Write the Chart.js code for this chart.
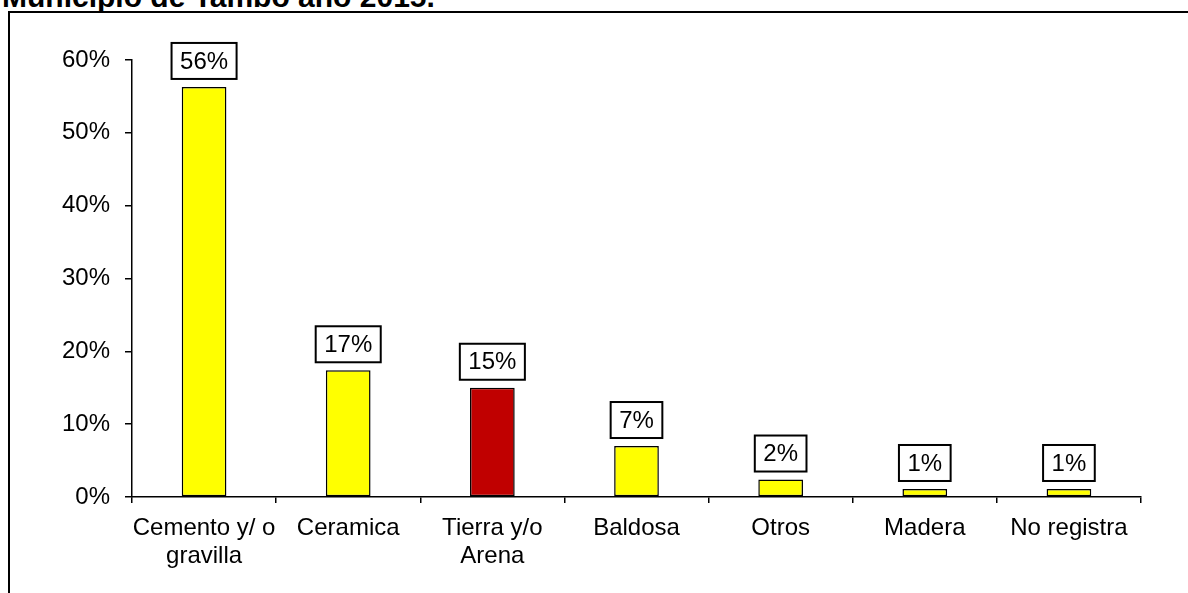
<!DOCTYPE html>
<html>
<head>
<meta charset="utf-8">
<script src="https://cdn.jsdelivr.net/npm/chart.js@4"></script>
<style>
  html, body { margin:0; padding:0; width:1188px; height:593px; overflow:hidden; background:#fff; }
  #title { position:absolute; left:2px; top:-18px; font:bold 30px Arial, "Liberation Sans", sans-serif; line-height:30px; color:#000; white-space:nowrap; }
  #frame { position:absolute; left:8px; top:11px; width:1300px; height:700px; border:2px solid #000; box-sizing:border-box; }
  #wrap { position:absolute; left:0; top:0; width:1188px; height:593px; }
</style>
</head>
<body>
<div id="title">Municipio de Tambo año 2015.</div>
<div id="frame"></div>
<div id="wrap"><canvas id="c" width="1188" height="593"></canvas></div>
<script>
const categories = [["Cemento y/ o","gravilla"], "Ceramica", ["Tierra y/o","Arena"], "Baldosa", "Otros", "Madera", "No registra"];
const values = [56.3, 17.4, 15.0, 7.0, 2.4, 1.1, 1.1];
const barColors = ["#FFFF00", "#FFFF00", "#C00000", "#FFFF00", "#FFFF00", "#FFFF00", "#FFFF00"];
const yTicks = [0, 10, 20, 30, 40, 50, 60];

const FONT = 'Arial, "Liberation Sans", sans-serif';

const boxLabels = {
  id: 'boxLabels',
  afterDatasetsDraw(chart) {
    const ctx = chart.ctx;
    const meta = chart.getDatasetMeta(0);
    ctx.save();
    ctx.font = '24px ' + FONT;
    ctx.textAlign = 'center';
    ctx.textBaseline = 'middle';
    meta.data.forEach((bar, i) => {
      const txt = Math.round(values[i]) + '%';
      const w = ctx.measureText(txt).width + 17;
      const h = 36;
      const x = bar.x - w / 2;
      const y = bar.y - 8 - h;
      ctx.fillStyle = '#fff';
      ctx.fillRect(x, y, w, h);
      ctx.lineWidth = 2;
      ctx.strokeStyle = '#000';
      ctx.strokeRect(x, y, w, h);
      ctx.fillStyle = '#000';
      ctx.fillText(txt, bar.x, y + h / 2 + 1);
    });
    ctx.restore();
  }
};

new Chart(document.getElementById('c'), {
  type: 'bar',
  data: {
    labels: categories,
    datasets: [{
      data: values,
      backgroundColor: barColors,
      borderColor: '#000',
      borderWidth: 1.5,
      borderSkipped: false,
      categoryPercentage: 1,
      barPercentage: 0.31
    }]
  },
  options: {
    responsive: false,
    animation: false,
    devicePixelRatio: 1,
    layout: { padding: { top: 60, right: 47, bottom: 0, left: 0 } },
    plugins: { legend: { display: false }, tooltip: { enabled: false }, title: { display: false } },
    scales: {
      x: {
        afterFit(scale) { scale.height = 96; },
        grid: { drawOnChartArea: false, drawTicks: true, tickLength: 6, color: '#000', lineWidth: 1.5, offset: true },
        border: { display: true, color: '#000', width: 1.5 },
        ticks: { color: '#000', font: { family: FONT, size: 24, lineHeight: 1.15 }, padding: 12, maxRotation: 0, autoSkip: false }
      },
      y: {
        min: 0, max: 60,
        afterFit(scale) { scale.width = 132; },
        afterBuildTicks(scale) { scale.ticks = yTicks.map(v => ({ value: v })); },
        grid: { drawOnChartArea: false, drawTicks: true, tickLength: 7, color: '#000', lineWidth: 1.5 },
        border: { display: true, color: '#000', width: 1.5 },
        ticks: { color: '#000', font: { family: FONT, size: 24 }, padding: 15, callback: v => v + '%' }
      }
    }
  },
  plugins: [boxLabels]
});
</script>
</body>
</html>
